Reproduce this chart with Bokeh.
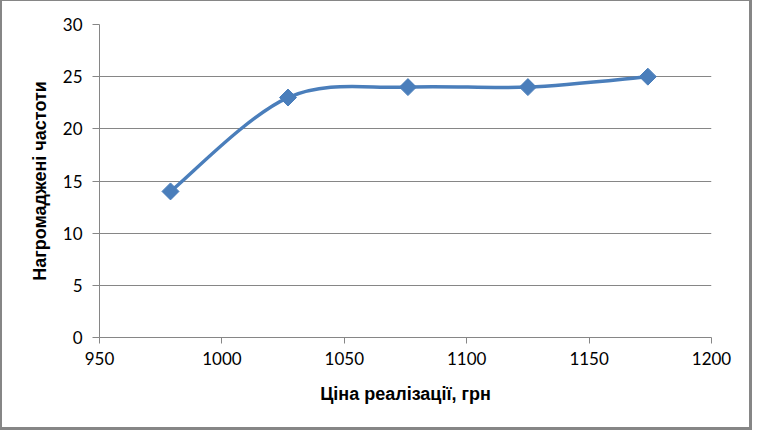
import numpy as np
from bokeh.plotting import figure
from bokeh.models import Range1d, FixedTicker
from bokeh.embed import file_html
from bokeh.resources import INLINE

# data
prices = [979, 1027, 1076, 1125, 1174]
cum_freq = [14, 23, 24, 24, 25]
x_ticks = [950, 1000, 1050, 1100, 1150, 1200]
y_ticks = [0, 5, 10, 15, 20, 25, 30]
x_title = "Ціна реалізації, грн"
y_title = "Нагромаджені частоти"

BLUE = "#4A7EBB"
GRAY = "#868686"

p = figure(width=752, height=430, output_backend="svg", toolbar_location=None,
           x_range=Range1d(950, 1200), y_range=Range1d(0, 30),
           min_border_left=97, min_border_right=43, min_border_top=23, min_border_bottom=94)
p.styles = {"border-style": "solid", "border-color": GRAY,
            "border-width": "1px 3px 3px 2px"}
p.outline_line_color = None
p.background_fill_color = "white"
p.border_fill_color = "white"

# smooth line (Catmull-Rom style bezier through the points, like Excel smoothing)
xs = np.array(prices, dtype=float)
ys = np.array(cum_freq, dtype=float)
xp = np.concatenate([[xs[0]], xs, [xs[-1]]])
yp = np.concatenate([[ys[0]], ys, [ys[-1]]])
n = len(xs)
x0 = xs[:-1]; y0 = ys[:-1]; x1 = xs[1:]; y1 = ys[1:]
cx0 = x0 + (xp[2:n+1] - xp[0:n-1]) / 6.0
cy0 = y0 + (yp[2:n+1] - yp[0:n-1]) / 6.0
cx1 = x1 - (xp[3:n+2] - xp[1:n]) / 6.0
cy1 = y1 - (yp[3:n+2] - yp[1:n]) / 6.0
p.bezier(x0=x0, y0=y0, x1=x1, y1=y1, cx0=cx0, cy0=cy0, cx1=cx1, cy1=cy1,
         line_color=BLUE, line_width=3.5)

p.scatter(prices, cum_freq, marker="square", size=12, angle=np.pi / 4,
          fill_color=BLUE, line_color=BLUE)

# grid
p.xgrid.grid_line_color = None
p.ygrid.grid_line_color = GRAY
p.ygrid.grid_line_width = 1

for ax in (p.xaxis[0], p.yaxis[0]):
    ax.axis_line_color = GRAY
    ax.major_tick_line_color = GRAY
    ax.minor_tick_line_color = None
    ax.major_tick_in = 0
    ax.major_label_text_font = "Lato"
    ax.major_label_text_font_size = "17px"
    ax.major_label_text_color = "black"
    ax.axis_label_text_font = "Liberation Sans"
    ax.axis_label_text_font_style = "bold"
    ax.axis_label_text_font_size = "18px"
    ax.axis_label_text_color = "black"

p.xaxis.ticker = FixedTicker(ticks=x_ticks)
p.yaxis.ticker = FixedTicker(ticks=y_ticks)
p.xaxis.major_tick_out = 6
p.yaxis.major_tick_out = 7
p.xaxis.major_label_standoff = 8
p.yaxis.major_label_standoff = 10
p.xaxis.axis_label = x_title
p.yaxis.axis_label = y_title
p.xaxis.axis_label_standoff = 16
p.yaxis.axis_label_standoff = 10

open("out.html", "w").write(file_html(p, INLINE))
